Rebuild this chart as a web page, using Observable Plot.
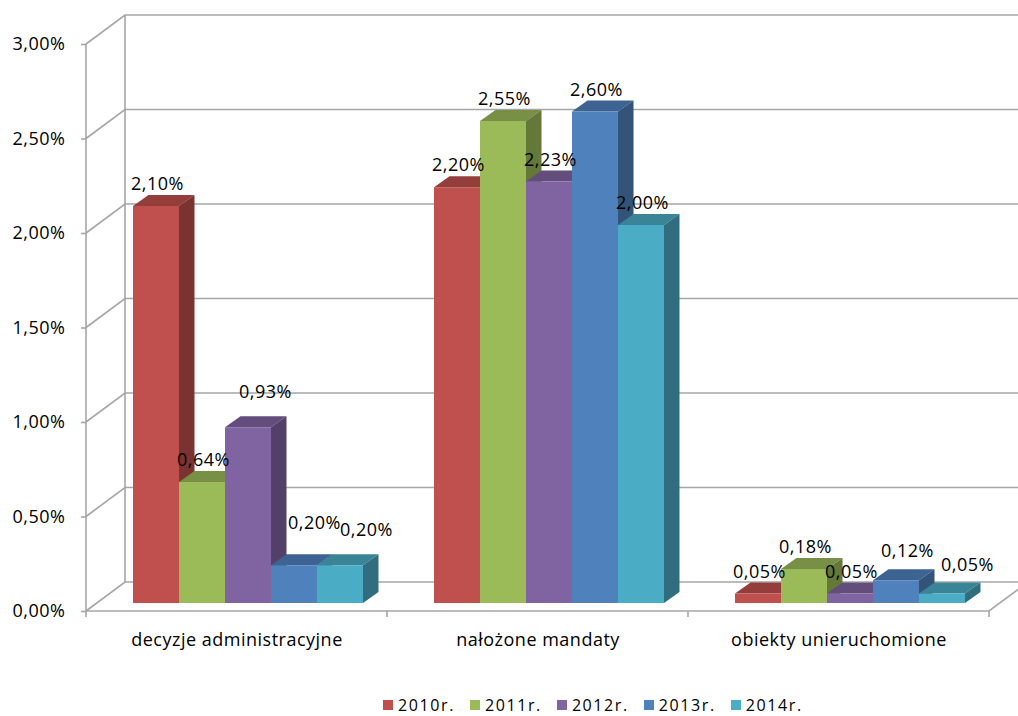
<!DOCTYPE html>
<html>
<head>
<meta charset="utf-8">
<script src="https://cdn.jsdelivr.net/npm/d3@7"></script>
<script src="https://cdn.jsdelivr.net/npm/@observablehq/plot@0.6"></script>
<style>
  body { margin: 0; background: #fff; font-family: "Open Sans", sans-serif; }
  #chart { width: 1018px; }
  #chart svg { display: block; }
  .legend { display: flex; height: 26px; box-sizing: border-box; padding: 6px 0 0 383px; font-size: 16px; line-height: 18px; letter-spacing: 1.6px; color: #000; }
  .legend .item { display: flex; align-items: flex-start; margin-right: 15px; }
  .legend .sw { width: 10px; height: 10px; margin: 4px 5px 0 0; }
</style>
</head>
<body>
<div id="chart"></div>
<script>
// Categories, series and values (shares in %)
const categories = ["decyzje administracyjne", "nałożone mandaty", "obiekty unieruchomione"];
const years = ["2010r.", "2011r.", "2012r.", "2013r.", "2014r."];
const v2010 = [2.10, 2.20, 0.05];
const v2011 = [0.64, 2.55, 0.18];
const v2012 = [0.93, 2.23, 0.05];
const v2013 = [0.20, 2.60, 0.12];
const v2014 = [0.20, 2.00, 0.05];
const yTicks = [0, 0.5, 1, 1.5, 2, 2.5, 3];
const colors = ["#C0504D", "#9BBB59", "#8064A2", "#4F81BD", "#4BACC6"];

const seriesValues = [v2010, v2011, v2012, v2013, v2014];
const rows = [];
categories.forEach((category, c) => {
  years.forEach((year, s) => rows.push({category, year, value: seriesValues[s][c]}));
});

const fmt = (v) => v.toFixed(2).replace(".", ",") + "%";

// Oblique 3D look: wall depth, bar placement in depth, bar thickness
const WALL = {dx: 39, dy: -29};
const BAR_FRONT = {dx: 11, dy: -8};
const BAR_DEPTH = {dx: 15.5, dy: -11};
const GRID = "#a6a6a6";
const FONT_SIZE = 18;

// Hand-placed data labels (pixel nudges), as in the original layout
const labelNudge = {
  "decyzje administracyjne|2012r.": [16, -13],
  "decyzje administracyjne|2013r.": [19, -20],
  "decyzje administracyjne|2014r.": [25, -13],
  "obiekty unieruchomione|2013r.": [10, -8],
  "obiekty unieruchomione|2014r.": [24, -7]
};
const keyOf = (d) => d.category + "|" + d.year;

function shade(c, k) {
  const r = d3.rgb(c);
  return d3.rgb(r.r * k, r.g * k, r.b * k).formatHex();
}

// Walls, grid lines and floor, drawn once across the whole frame
function walls(index, scales, values, dims) {
  const {width, marginLeft, marginRight} = dims;
  const y = scales.y;
  const left = marginLeft, right = width - marginRight, base = y(0);
  const g = d3.create("svg:g").attr("fill", "none").attr("stroke", GRID).attr("stroke-width", 1.6);
  const line = (pts) => g.append("path").attr("d", "M" + pts.map((p) => p.join(",")).join("L"));
  for (const t of yTicks) {
    const yy = y(t);
    line([[left, yy], [left + WALL.dx, yy + WALL.dy], [width, yy + WALL.dy]]);
  }
  line([[left, y(3)], [left, base]]);
  line([[left + WALL.dx, y(3) + WALL.dy], [left + WALL.dx, base + WALL.dy]]);
  line([[left, base], [right, base], [right + WALL.dx, base + WALL.dy]]);
  // category boundary ticks
  const fx = scales.fx;
  const bounds = [];
  if (fx) {
    const bw = typeof fx.bandwidth === "function" ? fx.bandwidth() : fx.bandwidth;
    categories.forEach((c, i) => { if (i === 0) bounds.push(fx(c)); bounds.push(fx(c) + bw); });
  }
  for (const bx of bounds) line([[bx, base], [bx, base + 6]]);
  return g.node();
}

// 3D bars: front face, top face and right side face
function bars3d(index, scales, values) {
  const x = scales.x;
  const bw = typeof x.bandwidth === "function" ? x.bandwidth() : x.bandwidth;
  const g = d3.create("svg:g");
  const order = Array.from(index).sort((a, b) => values.x[a] - values.x[b]);
  for (const i of order) {
    const c = values.fill[i];
    const x0 = values.x[i] + BAR_FRONT.dx, x1 = x0 + bw;
    const yT = Math.min(values.y1[i], values.y2[i]) + BAR_FRONT.dy;
    const yB = Math.max(values.y1[i], values.y2[i]) + BAR_FRONT.dy;
    const poly = (pts, fill) => g.append("path").attr("d", "M" + pts.map((p) => p.join(",")).join("L") + "Z").attr("fill", fill);
    poly([[x0, yT], [x1, yT], [x1 + BAR_DEPTH.dx, yT + BAR_DEPTH.dy], [x0 + BAR_DEPTH.dx, yT + BAR_DEPTH.dy]], shade(c, 0.77));
    poly([[x1, yT], [x1 + BAR_DEPTH.dx, yT + BAR_DEPTH.dy], [x1 + BAR_DEPTH.dx, yB + BAR_DEPTH.dy], [x1, yB]], shade(c, 0.64));
    poly([[x0, yT], [x1, yT], [x1, yB], [x0, yB]], c);
  }
  return g.node();
}

const labelBase = {dx: BAR_FRONT.dx + 1, dy: BAR_FRONT.dy - 22};
const textOpts = {fx: "category", x: "year", y: "value", text: (d) => fmt(d.value), fontSize: FONT_SIZE, fill: "#000"};
const labelMarks = [
  Plot.text(rows.filter((d) => !labelNudge[keyOf(d)]), {...textOpts, dx: labelBase.dx, dy: labelBase.dy}),
  ...Object.entries(labelNudge).map(([k, [ndx, ndy]]) =>
    Plot.text(rows.filter((d) => keyOf(d) === k), {...textOpts, dx: labelBase.dx + ndx, dy: labelBase.dy + ndy}))
];

const chart = Plot.plot({
  width: 1018,
  height: 690,
  marginLeft: 85,
  marginRight: 28,
  marginTop: 44,
  marginBottom: 79,
  style: {fontFamily: "Open Sans, sans-serif", fontSize: FONT_SIZE + "px", letterSpacing: "0.5px", background: "#fff", overflow: "visible"},
  fx: {domain: categories, padding: 0, label: null, axis: null},
  x: {domain: years, paddingInner: 0, paddingOuter: 0.765, axis: null},
  y: {domain: [0, 3], axis: null},
  color: {domain: years, range: colors},
  marks: [
    Plot.frame({facet: "super", stroke: "none", render: walls}),
    Plot.axisY({ticks: yTicks, tickFormat: fmt, tickSize: 5, tickPadding: 16, stroke: GRID, strokeWidth: 1.6, fill: "#000", label: null, fontSize: FONT_SIZE}),
    Plot.axisFx({anchor: "bottom", tickSize: 0, tickPadding: 22, label: null, fontSize: FONT_SIZE, fill: "#000"}),
    Plot.barY(rows, {fx: "category", x: "year", y: "value", fill: "year", render: bars3d}),
    ...labelMarks
  ]
});

const root = document.getElementById("chart");
root.appendChild(chart);

// Legend below the chart, built from the color scale
const colorScale = chart.scale("color");
const legend = document.createElement("div");
legend.className = "legend";
colorScale.domain.forEach((name, i) => {
  const item = document.createElement("div");
  item.className = "item";
  const sw = document.createElement("span");
  sw.className = "sw";
  sw.style.background = colorScale.range[i];
  const label = document.createElement("span");
  label.textContent = name;
  item.append(sw, label);
  legend.appendChild(item);
});
root.appendChild(legend);
</script>
</body>
</html>
